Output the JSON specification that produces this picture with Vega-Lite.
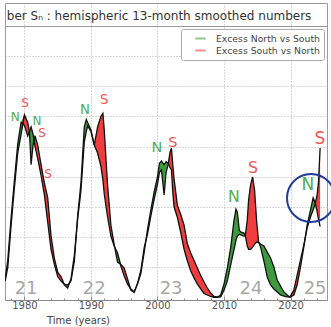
{
  "$schema": "https://vega.github.io/schema/vega-lite/v6.json",
  "width": 322,
  "height": 297,
  "autosize": {"type": "none"},
  "padding": {"left": 5, "top": 3, "right": 4, "bottom": 27},
  "background": "white",
  "config": {
    "font": "DejaVu Sans",
    "view": {"stroke": "#9a9a9a", "strokeWidth": 1}
  },
  "data": {
    "values": [
      {"year": 1977.1, "N": 12, "S": 11},
      {"year": 1977.5, "N": 25, "S": 20},
      {"year": 1978.0, "N": 53, "S": 48},
      {"year": 1978.5, "N": 78, "S": 73},
      {"year": 1979.0, "N": 102, "S": 96},
      {"year": 1979.5, "N": 116, "S": 108},
      {"year": 1980.0, "N": 114, "S": 121},
      {"year": 1980.5, "N": 107, "S": 116},
      {"year": 1980.75, "N": 110, "S": 110},
      {"year": 1981.0, "N": 113, "S": 88},
      {"year": 1981.3, "N": 108, "S": 101},
      {"year": 1981.6, "N": 100, "S": 107},
      {"year": 1982.0, "N": 92, "S": 101},
      {"year": 1982.5, "N": 81, "S": 88},
      {"year": 1983.0, "N": 68, "S": 76},
      {"year": 1983.5, "N": 50, "S": 66},
      {"year": 1984.0, "N": 32, "S": 41},
      {"year": 1984.5, "N": 22, "S": 26},
      {"year": 1985.0, "N": 14, "S": 17},
      {"year": 1985.5, "N": 11, "S": 14},
      {"year": 1986.0, "N": 9, "S": 8.5},
      {"year": 1986.5, "N": 8.4, "S": 6.4},
      {"year": 1987.0, "N": 11, "S": 12.4},
      {"year": 1987.5, "N": 24, "S": 28},
      {"year": 1988.0, "N": 54, "S": 52},
      {"year": 1988.5, "N": 76, "S": 71},
      {"year": 1989.0, "N": 113, "S": 103},
      {"year": 1989.3, "N": 118, "S": 110},
      {"year": 1989.5, "N": 116, "S": 113.6},
      {"year": 1990.0, "N": 111, "S": 110},
      {"year": 1990.5, "N": 101, "S": 101},
      {"year": 1991.0, "N": 95.7, "S": 113},
      {"year": 1991.5, "N": 87, "S": 120},
      {"year": 1991.8, "N": 78, "S": 122},
      {"year": 1992.0, "N": 68.6, "S": 111},
      {"year": 1992.5, "N": 53.4, "S": 74.6},
      {"year": 1993.0, "N": 40.8, "S": 48},
      {"year": 1993.5, "N": 34, "S": 35},
      {"year": 1994.0, "N": 29.6, "S": 23.6},
      {"year": 1994.5, "N": 21, "S": 22},
      {"year": 1995.0, "N": 14.4, "S": 19.6},
      {"year": 1995.5, "N": 9, "S": 12.4},
      {"year": 1996.0, "N": 5.8, "S": 5.1},
      {"year": 1996.5, "N": 4, "S": 3.5},
      {"year": 1997.0, "N": 9, "S": 9.5},
      {"year": 1997.5, "N": 16, "S": 18},
      {"year": 1998.0, "N": 30, "S": 33},
      {"year": 1998.5, "N": 45, "S": 42},
      {"year": 1999.0, "N": 58, "S": 54},
      {"year": 1999.5, "N": 70, "S": 65},
      {"year": 2000.0, "N": 80, "S": 75},
      {"year": 2000.3, "N": 89, "S": 83},
      {"year": 2000.6, "N": 90.4, "S": 84.5},
      {"year": 2001.0, "N": 88, "S": 68},
      {"year": 2001.3, "N": 90, "S": 83},
      {"year": 2001.6, "N": 89, "S": 88},
      {"year": 2001.9, "N": 86, "S": 96.4},
      {"year": 2002.1, "N": 84.5, "S": 99},
      {"year": 2002.3, "N": 70, "S": 88},
      {"year": 2002.5, "N": 60, "S": 78.5},
      {"year": 2003.0, "N": 53, "S": 61},
      {"year": 2003.5, "N": 43, "S": 55},
      {"year": 2004.0, "N": 32, "S": 48},
      {"year": 2004.5, "N": 24.3, "S": 35.5},
      {"year": 2005.0, "N": 17.7, "S": 29.6},
      {"year": 2005.5, "N": 13, "S": 24.6},
      {"year": 2006.0, "N": 9, "S": 19.6},
      {"year": 2006.5, "N": 5.8, "S": 14.7},
      {"year": 2007.0, "N": 2.8, "S": 10.4},
      {"year": 2007.5, "N": 1.8, "S": 6.4},
      {"year": 2008.0, "N": 0.8, "S": 3.1},
      {"year": 2008.5, "N": 0.3, "S": 0.8},
      {"year": 2009.0, "N": 0.3, "S": 0.3},
      {"year": 2009.5, "N": 1.8, "S": 0.5},
      {"year": 2010.0, "N": 9, "S": 5},
      {"year": 2010.5, "N": 19.6, "S": 11},
      {"year": 2011.0, "N": 33, "S": 21.6},
      {"year": 2011.5, "N": 51, "S": 31.6},
      {"year": 2011.8, "N": 58.6, "S": 38},
      {"year": 2012.0, "N": 56.7, "S": 40.8},
      {"year": 2012.3, "N": 44.8, "S": 42},
      {"year": 2012.5, "N": 43.5, "S": 41.5},
      {"year": 2013.0, "N": 42.8, "S": 40.8},
      {"year": 2013.2, "N": 41, "S": 41},
      {"year": 2013.5, "N": 34.2, "S": 51.4},
      {"year": 2013.7, "N": 32, "S": 64.6},
      {"year": 2014.0, "N": 32, "S": 74.6},
      {"year": 2014.3, "N": 33.5, "S": 80},
      {"year": 2014.6, "N": 35.5, "S": 71},
      {"year": 2014.9, "N": 36.8, "S": 51},
      {"year": 2015.2, "N": 36.5, "S": 37},
      {"year": 2015.5, "N": 35.5, "S": 33.5},
      {"year": 2016.0, "N": 34.2, "S": 24.3},
      {"year": 2016.5, "N": 30.2, "S": 13.7},
      {"year": 2017.0, "N": 26.3, "S": 8.4},
      {"year": 2017.5, "N": 20.3, "S": 5.8},
      {"year": 2018.0, "N": 11.7, "S": 3.8},
      {"year": 2018.5, "N": 7.7, "S": 1.8},
      {"year": 2019.0, "N": 3.8, "S": 1.1},
      {"year": 2019.5, "N": 1.8, "S": 0.5},
      {"year": 2019.9, "N": 0.3, "S": 0.4},
      {"year": 2020.5, "N": 1.8, "S": 5},
      {"year": 2021.0, "N": 8.4, "S": 15},
      {"year": 2021.5, "N": 20.3, "S": 25},
      {"year": 2022.0, "N": 33.5, "S": 35},
      {"year": 2022.5, "N": 48, "S": 46},
      {"year": 2023.0, "N": 58, "S": 53.4},
      {"year": 2023.4, "N": 66, "S": 58},
      {"year": 2023.7, "N": 63, "S": 62},
      {"year": 2024.0, "N": 57, "S": 68},
      {"year": 2024.2, "N": 52, "S": 76},
      {"year": 2024.45, "N": 47, "S": 99}
    ]
  },
  "encoding": {
    "x": {
      "field": "year",
      "type": "quantitative",
      "title": "Time (years)",
      "scale": {"domain": [1977.08, 2025.485], "nice": false, "zero": false},
      "axis": {
        "values": [1978, 1980, 1982, 1984, 1986, 1988, 1990, 1992, 1994, 1996, 1998, 2000, 2002, 2004, 2006, 2008, 2010, 2012, 2014, 2016, 2018, 2020, 2022, 2024],
        "format": "d",
        "labelExpr": "datum.value % 10 === 0 ? datum.label : ''",
        "labelOverlap": false,
        "labelFlush": false,
        "grid": true,
        "gridDash": [1, 2],
        "gridColor": "#b0b0b0",
        "gridOpacity": {"condition": {"test": "datum.value % 10 === 0", "value": 1}, "value": 0},
        "tickSize": {"condition": {"test": "datum.value % 10 === 0", "value": -4}, "value": -2},
        "tickColor": "#888888",
        "domainColor": "#888888",
        "labelColor": "#555555",
        "labelFontSize": 10,
        "labelPadding": 4,
        "titleFontSize": 10,
        "titleFontWeight": "normal",
        "titleColor": "#444444",
        "titleX": 73,
        "titleY": 15,
        "titleAlign": "center",
        "titleBaseline": "top"
      }
    },
    "y": {
      "field": "v",
      "type": "quantitative",
      "scale": {"domain": [-1.52, 195], "nice": false, "zero": false},
      "axis": {
        "values": [20, 40, 60, 80, 100, 120, 140, 160, 180],
        "grid": true,
        "gridColor": {"condition": {"test": "datum.value === 180", "value": "#9a9a9a"}, "value": "#b0b0b0"},
        "gridDash": {"condition": {"test": "datum.value === 180", "value": []}, "value": [1, 2]},
        "labels": false,
        "ticks": false,
        "domain": false,
        "title": null
      }
    }
  },
  "layer": [
    {
      "data": {
        "values": [
          {"year": 1980.25, "v": 2.2, "c": "21"},
          {"year": 1990.5, "v": 2.2, "c": "22"},
          {"year": 2002.05, "v": 2.2, "c": "23"},
          {"year": 2014.05, "v": 2.2, "c": "24"},
          {"year": 2023.7, "v": 2.2, "c": "25"}
        ]
      },
      "mark": {"type": "text", "fontSize": 18, "color": "#a8a8a8", "baseline": "alphabetic", "align": "center"},
      "encoding": {"text": {"field": "c"}}
    },
    {
      "transform": [
        {"fold": ["N", "S"], "as": ["hemi", "v"]},
        {"joinaggregate": [{"op": "max", "field": "v", "as": "mx"}], "groupby": ["year"]}
      ],
      "mark": {"type": "area", "clip": true},
      "encoding": {
        "y2": {"field": "mx"},
        "color": {
          "field": "hemi",
          "type": "nominal",
          "scale": {"domain": ["S", "N"], "range": ["#3d9b3d", "#f03c3c"]},
          "legend": {
            "title": null,
            "orient": "none",
            "legendX": 176,
            "legendY": 26,
            "direction": "vertical",
            "labelExpr": "datum.label === 'S' ? 'Excess North vs South' : 'Excess South vs North'",
            "symbolType": "M-1,-0.2H1V0.2H-1Z",
            "symbolSize": 110,
            "symbolStrokeWidth": 0,
            "symbolOpacity": 0.55,
            "labelFontSize": 9.3,
            "labelColor": "#444444",
            "strokeColor": "#aaaaaa",
            "fillColor": "white",
            "padding": 4,
            "cornerRadius": 2,
            "rowPadding": 1,
            "labelOffset": 10,
            "symbolOffset": 10
          }
        },
        "detail": {"field": "hemi"}
      }
    },
    {
      "transform": [{"fold": ["N", "S"], "as": ["hemi", "v"]}],
      "mark": {"type": "line", "color": "#111111", "strokeWidth": 1.3, "clip": true},
      "encoding": {"detail": {"field": "hemi"}}
    },
    {
      "data": {
        "values": [
          {"year": 1978.6, "v": 119.6, "h": "N", "c": "21"},
          {"year": 1980.1, "v": 128.8, "h": "S", "c": "21"},
          {"year": 1981.9, "v": 116.9, "h": "N", "c": "21"},
          {"year": 1982.65, "v": 109, "h": "S", "c": "21"},
          {"year": 1983.55, "v": 81.8, "h": "S", "c": "21"},
          {"year": 1989.1, "v": 124.2, "h": "N", "c": "22"},
          {"year": 1992.0, "v": 130.8, "h": "S", "c": "22"},
          {"year": 1999.9, "v": 99, "h": "N", "c": "23"},
          {"year": 2002.3, "v": 102.3, "h": "S", "c": "23"},
          {"year": 2011.5, "v": 66.6, "h": "N", "c": "24"},
          {"year": 2014.35, "v": 85.8, "h": "S", "c": "24"},
          {"year": 2022.6, "v": 74.6, "h": "N", "c": "25"},
          {"year": 2024.4, "v": 105, "h": "S", "c": "25"}
        ]
      },
      "transform": [{"filter": "datum.h === 'N'"}],
      "mark": {"type": "text", "color": "#52ad52", "baseline": "middle", "align": "center"},
      "encoding": {
        "text": {"field": "h"},
        "size": {"field": "c", "type": "ordinal", "scale": {"domain": ["21", "22", "23", "24", "25"], "range": [12, 17, 15, 15, 15]}, "legend": null}
      }
    },
    {
      "data": {
        "values": [
          {"year": 1978.6, "v": 119.6, "h": "N", "c": "21"},
          {"year": 1980.1, "v": 128.8, "h": "S", "c": "21"},
          {"year": 1981.9, "v": 116.9, "h": "N", "c": "21"},
          {"year": 1982.65, "v": 109, "h": "S", "c": "21"},
          {"year": 1983.55, "v": 81.8, "h": "S", "c": "21"},
          {"year": 1989.1, "v": 124.2, "h": "N", "c": "22"},
          {"year": 1992.0, "v": 130.8, "h": "S", "c": "22"},
          {"year": 1999.9, "v": 99, "h": "N", "c": "23"},
          {"year": 2002.3, "v": 102.3, "h": "S", "c": "23"},
          {"year": 2011.5, "v": 66.6, "h": "N", "c": "24"},
          {"year": 2014.35, "v": 85.8, "h": "S", "c": "24"},
          {"year": 2022.6, "v": 74.6, "h": "N", "c": "25"},
          {"year": 2024.4, "v": 105, "h": "S", "c": "25"}
        ]
      },
      "transform": [{"filter": "datum.h === 'S'"}],
      "mark": {"type": "text", "color": "#f25555", "baseline": "middle", "align": "center"},
      "encoding": {
        "text": {"field": "h"},
        "size": {"field": "c", "type": "ordinal", "scale": {"domain": ["21", "22", "23", "24", "25"], "range": [12, 17, 15, 15, 15]}, "legend": null}
      }
    },
    {
      "data": {"values": [{"year": 1977.35, "v": 183.8, "t": "ber Sₙ : hemispheric 13-month smoothed numbers"}]},
      "mark": {"type": "text", "fontSize": 12, "color": "#333333", "align": "left", "baseline": "alphabetic"},
      "encoding": {"text": {"field": "t"}}
    },
    {
      "data": {"values": [{"year": 2023.08, "v": 66}]},
      "mark": {"type": "point", "shape": "circle", "filled": false, "size": 2304, "stroke": "#1f3c98", "strokeWidth": 2, "opacity": 1, "clip": false}
    }
  ]
}
